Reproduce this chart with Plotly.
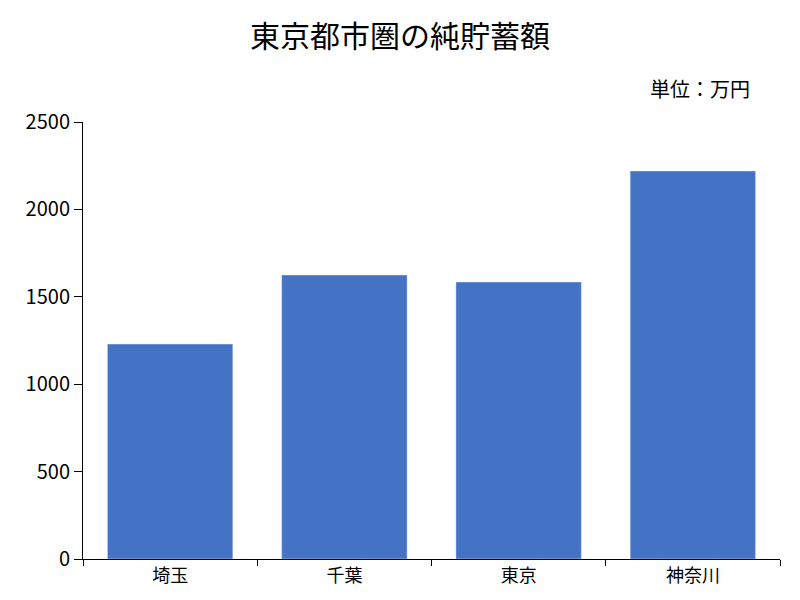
import plotly.graph_objects as go

regions = ["埼玉", "千葉", "東京", "神奈川"]
savings = [1230, 1625, 1585, 2220]

fig = go.Figure()
fig.add_trace(go.Bar(x=regions, y=savings, marker_color="#4472C4", width=0.72))

fig.update_layout(
    width=800, height=600,
    paper_bgcolor="white", plot_bgcolor="white",
    font=dict(family="Noto Sans CJK JP", size=20, color="black"),
    title=dict(text="東京都市圏の純貯蓄額", x=0.49, y=0.97, xanchor="center",
               font=dict(size=30)),
    margin=dict(l=75, r=28, t=114, b=49),
    showlegend=False,
    bargap=0.28,
    annotations=[dict(text="単位：万円", x=0.96, y=1.04, xref="paper", yref="paper",
                      xanchor="right", yanchor="bottom", showarrow=False,
                      font=dict(size=20))],
)
fig.update_xaxes(showline=True, linecolor="black", ticks="outside", tickson="boundaries",
                 ticklen=6, tickcolor="black", tickfont=dict(size=18), automargin=False)
fig.update_yaxes(range=[0, 2500], dtick=500, showline=True, linecolor="black",
                 ticks="outside", ticklen=8, tickcolor="black", showgrid=False,
                 zeroline=False, tickfont=dict(size=20), automargin=False)

fig.write_html("out.html")
